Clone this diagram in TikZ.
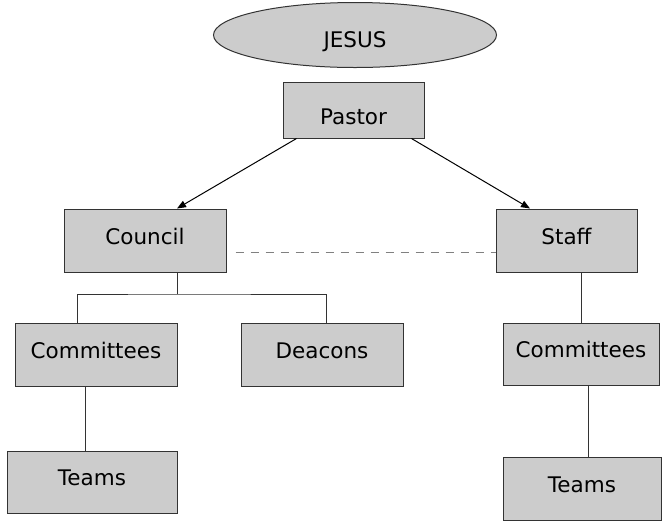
\documentclass[tikz,border=0pt]{standalone}
\usepackage{fontspec}
\setmainfont{DejaVu Sans}
\usetikzlibrary{arrows.meta,shapes.geometric}
\definecolor{orgFill}{HTML}{CCCCCC}
\definecolor{orgEdge}{HTML}{333333}
\tikzset{
    orgbox/.style={draw=orgEdge, line width=1pt, fill=orgFill, rectangle, inner sep=0pt, text height=10pt, text depth=2.2pt, align=center, font=\fontsize{21.5}{25}\selectfont},
    orgoval/.style={draw=orgEdge, line width=1pt, fill=orgFill, ellipse, inner sep=0pt, text height=26pt, text depth=0.6pt, align=center, font=\fontsize{21.5}{25}\selectfont},
    orgline/.style={draw=orgEdge, line width=1pt},
    orgarrow/.style={-{Triangle[length=9pt, width=7pt]}, line width=1pt, black},
    orgdash/.style={draw=gray, line width=1pt, dash pattern=on 8pt off 7pt}
}
\begin{document}
\begin{tikzpicture}[x=1pt, y=-1pt]
            \useasboundingbox (0,0) rectangle (665,523);
            \node[orgoval, minimum width=283pt, minimum height=65pt] (jesus) at (355,35) {JESUS};
            \node[orgbox, minimum width=141pt, minimum height=56pt, text height=30pt, text depth=0.6pt] (pastor) at (353.5,110) {Pastor};
            \node[orgbox, minimum width=162pt, minimum height=63pt] (council) at (145,240.5) {Council};
            \node[orgbox, minimum width=141pt, minimum height=63pt] (staff) at (566.5,240.5) {Staff};
            \node[orgbox, minimum width=162pt, minimum height=63pt] (comL) at (96,354.5) {Committees};
            \node[orgbox, minimum width=162pt, minimum height=63pt] (deacons) at (322,354.5) {Deacons};
            \node[orgbox, minimum width=170pt, minimum height=62pt] (teamsL) at (92,482) {Teams};
            \node[orgbox, minimum width=156pt, minimum height=62pt] (comR) at (581,354) {Committees};
            \node[orgbox, minimum width=158pt, minimum height=63pt] (teamsR) at (582,488.5) {Teams};
            \coordinate (split) at (177,294);
            \draw[orgarrow] ([xshift=14pt]pastor.south west) -- ([xshift=32pt]council.north);
            \draw[orgarrow] ([xshift=-13pt]pastor.south east) -- ([xshift=-36.5pt]staff.north);
            \draw[orgdash] ([shift={(9pt,-11.5pt)}]council.east) -- ([yshift=-11.5pt]staff.west);
            \draw[orgline] (split) -- (split |- council.south);
            \draw[orgline] ([xshift=-19pt]comL.north) |- (split) -| ([xshift=4pt]deacons.north);
            \draw[orgline] ([xshift=-7pt]teamsL.north) -- ([xshift=-7pt]teamsL.north |- comL.south);
            \draw[orgline] (comR.north) -- (comR.north |- staff.south);
            \draw[orgline] ([xshift=6pt]teamsR.north) -- ([xshift=6pt]teamsR.north |- comR.south);
        \end{tikzpicture}
\end{document}
